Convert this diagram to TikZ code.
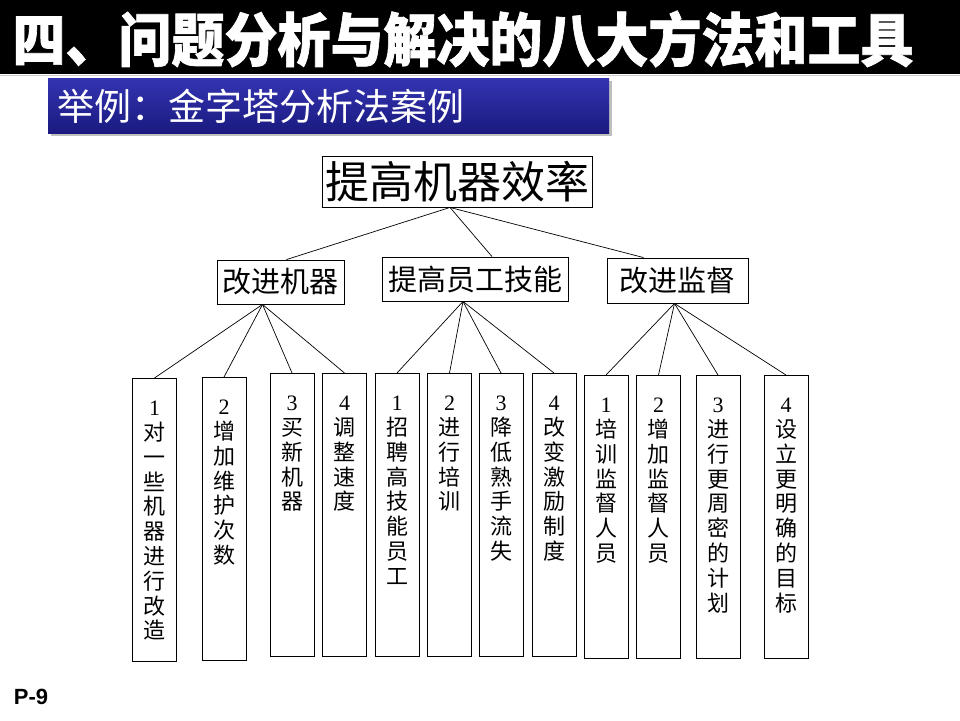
\documentclass[tikz,border=0pt]{standalone}
\usepackage{fontspec}
\setmainfont{Liberation Serif}
\setsansfont{Liberation Sans}
\newfontfamily\cjk{Noto Sans CJK SC}
\newfontfamily\cjkheavy[BoldFeatures={FakeBold=1.2}]{Noto Sans CJK SC}
\usepackage{tikz}
\usetikzlibrary{positioning,calc}

\definecolor{subtop}{RGB}{52,52,178}
\definecolor{subbot}{RGB}{26,26,128}

\newcommand\leafno[1]{\textrm{#1}}

\tikzset{
  box/.style={draw=black, line width=0.9pt, inner sep=0pt, fill=white},
  topbox/.style={box, minimum width=270pt, minimum height=51pt, font=\cjk\fontsize{44}{44}\selectfont},
  midbox/.style={box, minimum height=44pt, font=\cjk\fontsize{29}{29}\selectfont},
  leaf/.style={box, anchor=north, minimum width=44pt, minimum height=283pt},
  leaftxt/.style={anchor=north, yshift=-23pt, align=center, inner sep=0pt,
    font=\cjk\fontsize{22}{24.8}\selectfont},
  link/.style={draw=black, line width=0.7pt}
}

\begin{document}
\begin{tikzpicture}[x=1pt, y=-1pt]
  \useasboundingbox[fill=white] (0,0) rectangle (960,720);

  % Title bar
  \fill[black] (0,0) rectangle (960,74);
  \draw[gray!40, line width=1pt] (0,75) -- (960,75);
  \node[text=white, font=\cjkheavy\bfseries\fontsize{53}{53}\selectfont, inner sep=0pt,
    yscale=1.1, transform shape] (title) at (463,39) {四、问题分析与解决的八大方法和工具};

  % Subtitle bar
  \fill[gray!50] (51,81) rectangle (612,136);
  \shade[top color=subtop, bottom color=subbot] (48,78) rectangle (609,133);
  \node[anchor=west, text=white, font=\cjk\fontsize{37}{37}\selectfont, inner sep=0pt] (sub) at (57,106) {举例：金字塔分析法案例};

  % Tree
  \node[topbox] (goal) at (457,181.5) {提高机器效率};
  \node[midbox, minimum width=127pt] (mach) at (280.5,282) {改进机器};
  \node[midbox, minimum width=186pt] (staff) at (475,279) {提高员工技能};
  \node[midbox, minimum width=141pt, minimum height=45pt] (supv) at (677.5,280.5) {改进监督};

  \draw[link] ([xshift=-7pt]goal.south) -- ([xshift=6pt]mach.north);
  \draw[link] ([xshift=-7pt]goal.south) -- ([xshift=17pt]staff.north);
  \draw[link] ([xshift=-7pt]goal.south) -- ([xshift=-34pt]supv.north);

  % Leaves
  \foreach \n/\x/\t/\txt in {
      ma/154.5/378/{\leafno{1}\\对\\一\\些\\机\\器\\进\\行\\改\\造},
      mb/224/377/{\leafno{2}\\增\\加\\维\\护\\次\\数},
      mc/292/373/{\leafno{3}\\买\\新\\机\\器},
      md/344.5/373/{\leafno{4}\\调\\整\\速\\度},
      sa/397/373/{\leafno{1}\\招\\聘\\高\\技\\能\\员\\工},
      sb/449.5/373/{\leafno{2}\\进\\行\\培\\训},
      sc/501/373/{\leafno{3}\\降\\低\\熟\\手\\流\\失},
      sd/554/373/{\leafno{4}\\改\\变\\激\\励\\制\\度},
      va/606/375/{\leafno{1}\\培\\训\\监\\督\\人\\员},
      vb/658.5/375/{\leafno{2}\\增\\加\\监\\督\\人\\员},
      vc/718/375/{\leafno{3}\\进\\行\\更\\周\\密\\的\\计\\划},
      vd/786/375/{\leafno{4}\\设\\立\\更\\明\\确\\的\\目\\标}} {
    \node[leaf, label={[leaftxt]north:{\txt}}] (\n) at (\x,\t) {};
  }

  \foreach \n in {ma,mb,mc,md} \draw[link] ([xshift=-18pt]mach.south) -- (\n.north);
  \foreach \n in {sa,sb,sc,sd} \draw[link] ([xshift=-12pt]staff.south) -- (\n.north);
  \foreach \n in {va,vb,vc,vd} \draw[link] ([xshift=-3pt]supv.south) -- (\n.north);

  % Page number
  \node[font=\sffamily\bfseries\fontsize{22}{22}\selectfont, inner sep=0pt] (page) at (31,697) {P-9};
\end{tikzpicture}
\end{document}
